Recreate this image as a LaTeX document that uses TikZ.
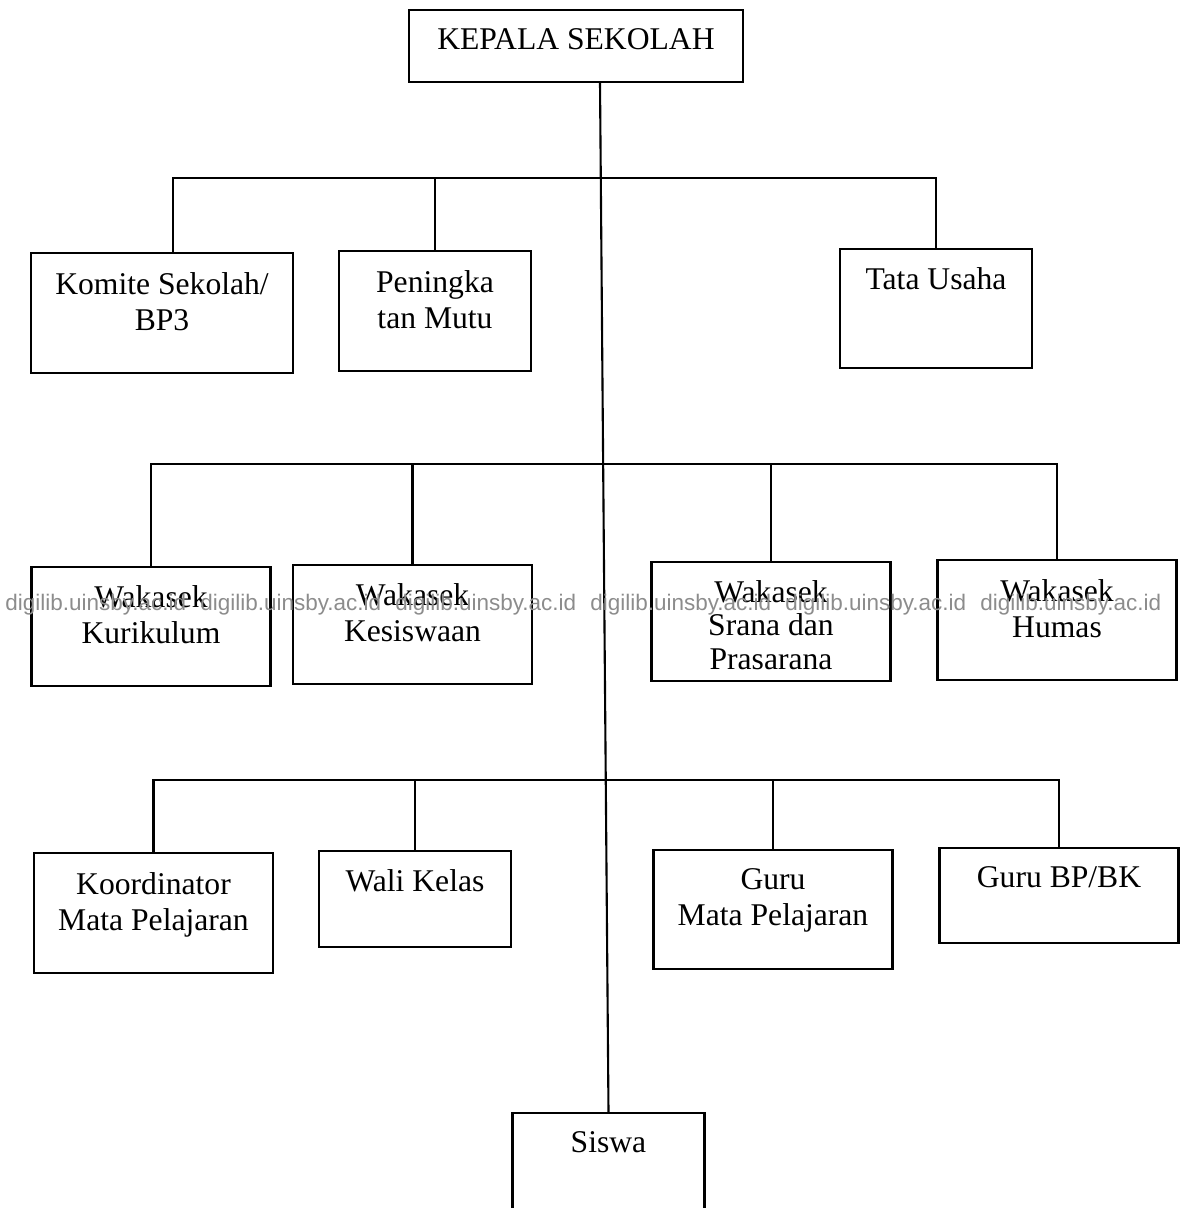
\documentclass[tikz,border=0pt]{standalone}
\usepackage{fontspec}
\setmainfont{Liberation Serif}
\newfontfamily\wmfont{Liberation Sans}
\usepackage{tikz}
\usetikzlibrary{positioning}
\definecolor{wmgray}{RGB}{140,140,140}
\tikzset{
  unit/.style={draw,line width=1.2pt,inner sep=0pt,minimum width=4.78cm,minimum height=2.39cm},
  narrow/.style={unit,minimum width=3.84cm},
  txt/.style={font=\fontsize{18}{20.5}\selectfont,align=center,inner sep=0pt},
  link/.style={line width=1.2pt},
  wmark/.style={font=\wmfont\fontsize{12.8}{14}\selectfont,text=wmgray,anchor=west,inner sep=0pt},
}
\begin{document}
\begin{tikzpicture}[x=0.02cm,y=-0.02cm]
  \useasboundingbox (0,0) rectangle (1180,1208);
  \clip (0,0) rectangle (1180,1208);

  % boxes
  \node[unit,minimum width=6.68cm,minimum height=1.44cm] (kepala) at (576,46) {};
  \node[unit,minimum width=5.24cm] (komite) at (162,313) {};
  \node[narrow] (mutu) at (435,311) {};
  \node[narrow] (tu)   at (936,308.5) {};
  \node[unit] (kurikulum) at (151,626.5) {};
  \node[unit] (kesiswaan) at (412.5,624.5) {};
  \node[unit] (sarpras)   at (771,621.5) {};
  \node[unit] (humas)     at (1057,620) {};
  \node[unit] (koord)     at (153.5,913) {};
  \node[narrow,minimum height=1.92cm] (wali) at (415,899) {};
  \node[unit] (gurump)    at (773,909.5) {};
  \node[unit,minimum height=1.9cm] (gurubk) at (1059,895.5) {};
  \node[narrow,minimum height=2.4cm] (siswa) at (608.5,1173) {};

  % labels
  \node[txt,below=0.39cm of kepala.north]    (kepala-t)    {KEPALA SEKOLAH};
  \node[txt,below=0.39cm of komite.north]    (komite-t)    {Komite Sekolah/\\BP3};
  \node[txt,below=0.39cm of mutu.north]      (mutu-t)      {Peningka\\tan Mutu};
  \node[txt,below=0.39cm of tu.north]        (tu-t)        {Tata Usaha};
  \node[txt,below=0.39cm of kurikulum.north] (kurikulum-t) {Wakasek\\Kurikulum};
  \node[txt,below=0.39cm of kesiswaan.north] (kesiswaan-t) {Wakasek\\Kesiswaan};
  \node[txt,below=0.39cm of sarpras.north,font=\fontsize{18}{19}\selectfont] (sarpras-t) {Wakasek\\Srana dan\\Prasarana};
  \node[txt,below=0.39cm of humas.north]     (humas-t)     {Wakasek\\Humas};
  \node[txt,below=0.39cm of koord.north]     (koord-t)     {Koordinator\\Mata Pelajaran};
  \node[txt,below=0.39cm of wali.north]      (wali-t)      {Wali Kelas};
  \node[txt,below=0.39cm of gurump.north]    (gurump-t)    {Guru\\Mata Pelajaran};
  \node[txt,below=0.39cm of gurubk.north]    (gurubk-t)    {Guru BP/BK};
  \node[txt,below=0.39cm of siswa.north]     (siswa-t)     {Siswa};

  % connectors
  \coordinate (trunk) at (600,82);
  \coordinate (bar1) at (0,178);
  \coordinate (bar2) at (0,464);
  \coordinate (bar3) at (0,780);
  \draw[link] (trunk) -- (siswa.north);

  \draw[link] ([xshift=0.22cm]komite.north) |- (bar1 -| tu.north) -- (tu.north);
  \draw[link] (mutu.north) -- (mutu.north |- bar1);

  \draw[link] (kurikulum.north) |- (bar2 -| humas.north) -- (humas.north);
  \draw[link] (kesiswaan.north) -- (kesiswaan.north |- bar2);
  \draw[link] (sarpras.north) -- (sarpras.north |- bar2);

  \draw[link] (koord.north) |- (bar3 -| gurubk.north) -- (gurubk.north);
  \draw[link] (wali.north) -- (wali.north |- bar3);
  \draw[link] (gurump.north) -- (gurump.north |- bar3);

  % watermark
  \foreach \i in {0,...,5}
    \node[wmark] (wm\i) at (5+195*\i,605) {digilib.uinsby.ac.id};
\end{tikzpicture}
\end{document}
